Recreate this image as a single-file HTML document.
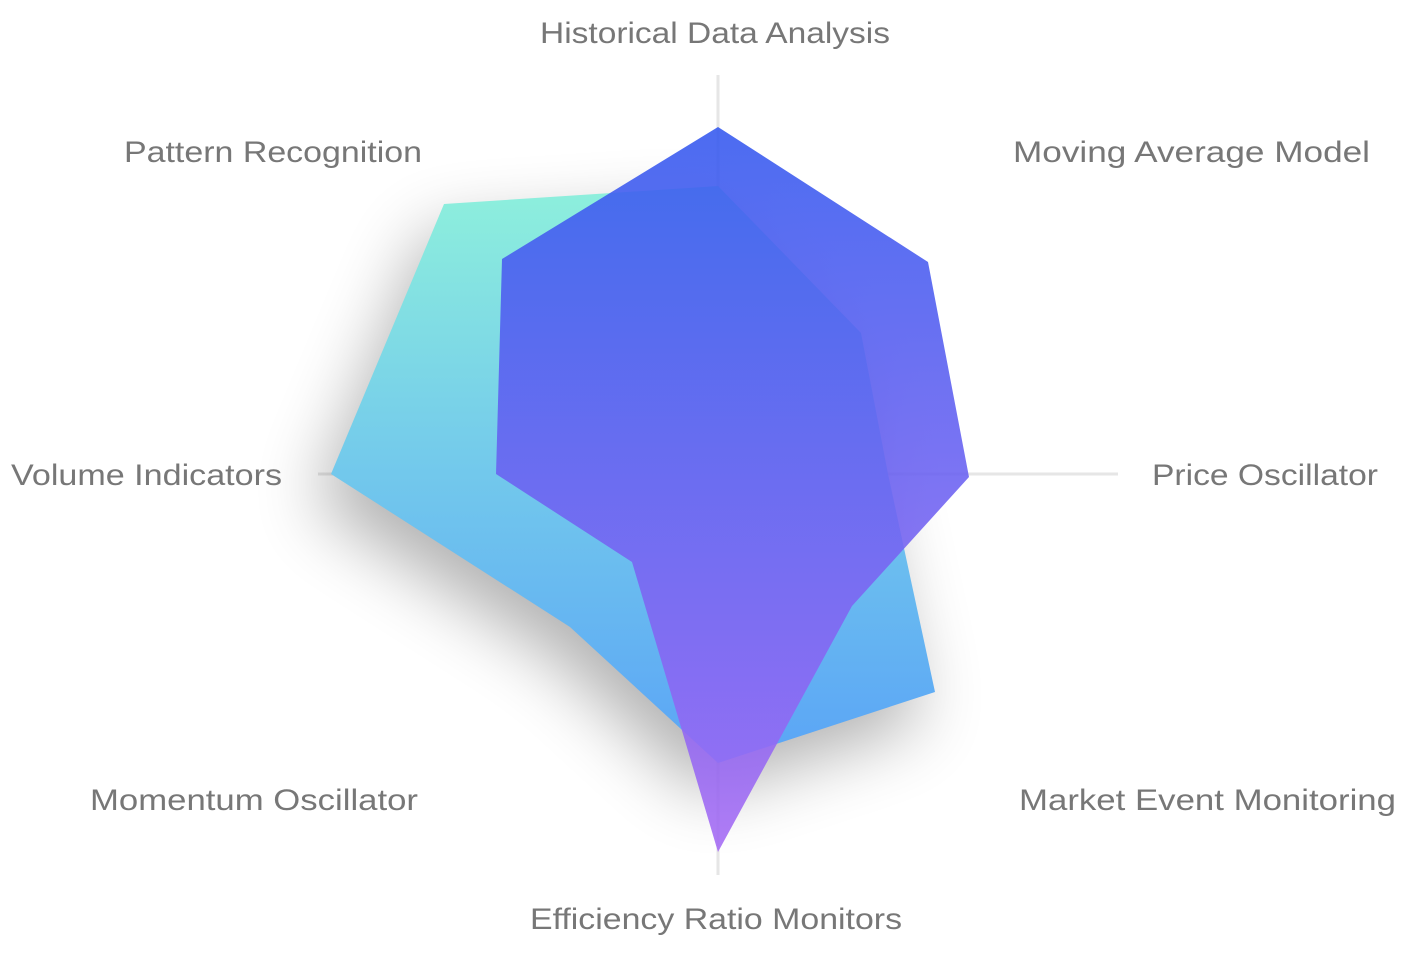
<!DOCTYPE html>
<html><head><style>
body{margin:0;background:#fff;width:1408px;height:952px;overflow:hidden;font-family:"Liberation Sans",sans-serif}
</style></head><body>
<svg width="1408" height="952" viewBox="0 0 1408 952">
<defs>
<linearGradient id="g1" x1="0" y1="0" x2="0" y2="1"><stop offset="0" stop-color="#8ef0dc"/><stop offset="0.5" stop-color="#72c8ec"/><stop offset="1" stop-color="#5aa4f6"/></linearGradient>
<linearGradient id="g2" x1="0" y1="0" x2="0" y2="1"><stop offset="0" stop-color="#3358ef"/><stop offset="1" stop-color="#a56af4"/></linearGradient>
<filter id="sh" x="-30%" y="-30%" width="160%" height="160%"><feGaussianBlur stdDeviation="35"/></filter>
</defs>
<line x1="718" y1="75" x2="718" y2="875" stroke="#e6e6e6" stroke-width="3"/>
<line x1="318" y1="474" x2="1118" y2="474" stroke="#e6e6e6" stroke-width="3"/>
<polygon points="718,186 861,333 888,474 935,692 718,763 570,627 331,474 444,204" fill="#000" opacity="0.3" filter="url(#sh)" transform="translate(-15,30)"/>
<polygon points="718,186 861,333 888,474 935,692 718,763 570,627 331,474 444,204" fill="url(#g1)"/>
<polygon points="718,127 928,262 969,477 852,606 718,852 632,562 496,474 502,259" fill="url(#g2)" opacity="0.88"/>
<g fill="#777" font-size="30">
<text x="540" y="43" textLength="350" lengthAdjust="spacingAndGlyphs">Historical Data Analysis</text>
<text x="1013" y="162" textLength="357" lengthAdjust="spacingAndGlyphs">Moving Average Model</text>
<text x="1152" y="485" textLength="226" lengthAdjust="spacingAndGlyphs">Price Oscillator</text>
<text x="1019" y="810" textLength="377" lengthAdjust="spacingAndGlyphs">Market Event Monitoring</text>
<text x="530" y="929" textLength="372" lengthAdjust="spacingAndGlyphs">Efficiency Ratio Monitors</text>
<text x="90" y="810" textLength="328" lengthAdjust="spacingAndGlyphs">Momentum Oscillator</text>
<text x="11" y="485" textLength="271" lengthAdjust="spacingAndGlyphs">Volume Indicators</text>
<text x="124" y="162" textLength="298" lengthAdjust="spacingAndGlyphs">Pattern Recognition</text>
</g>
</svg>
</body></html>
